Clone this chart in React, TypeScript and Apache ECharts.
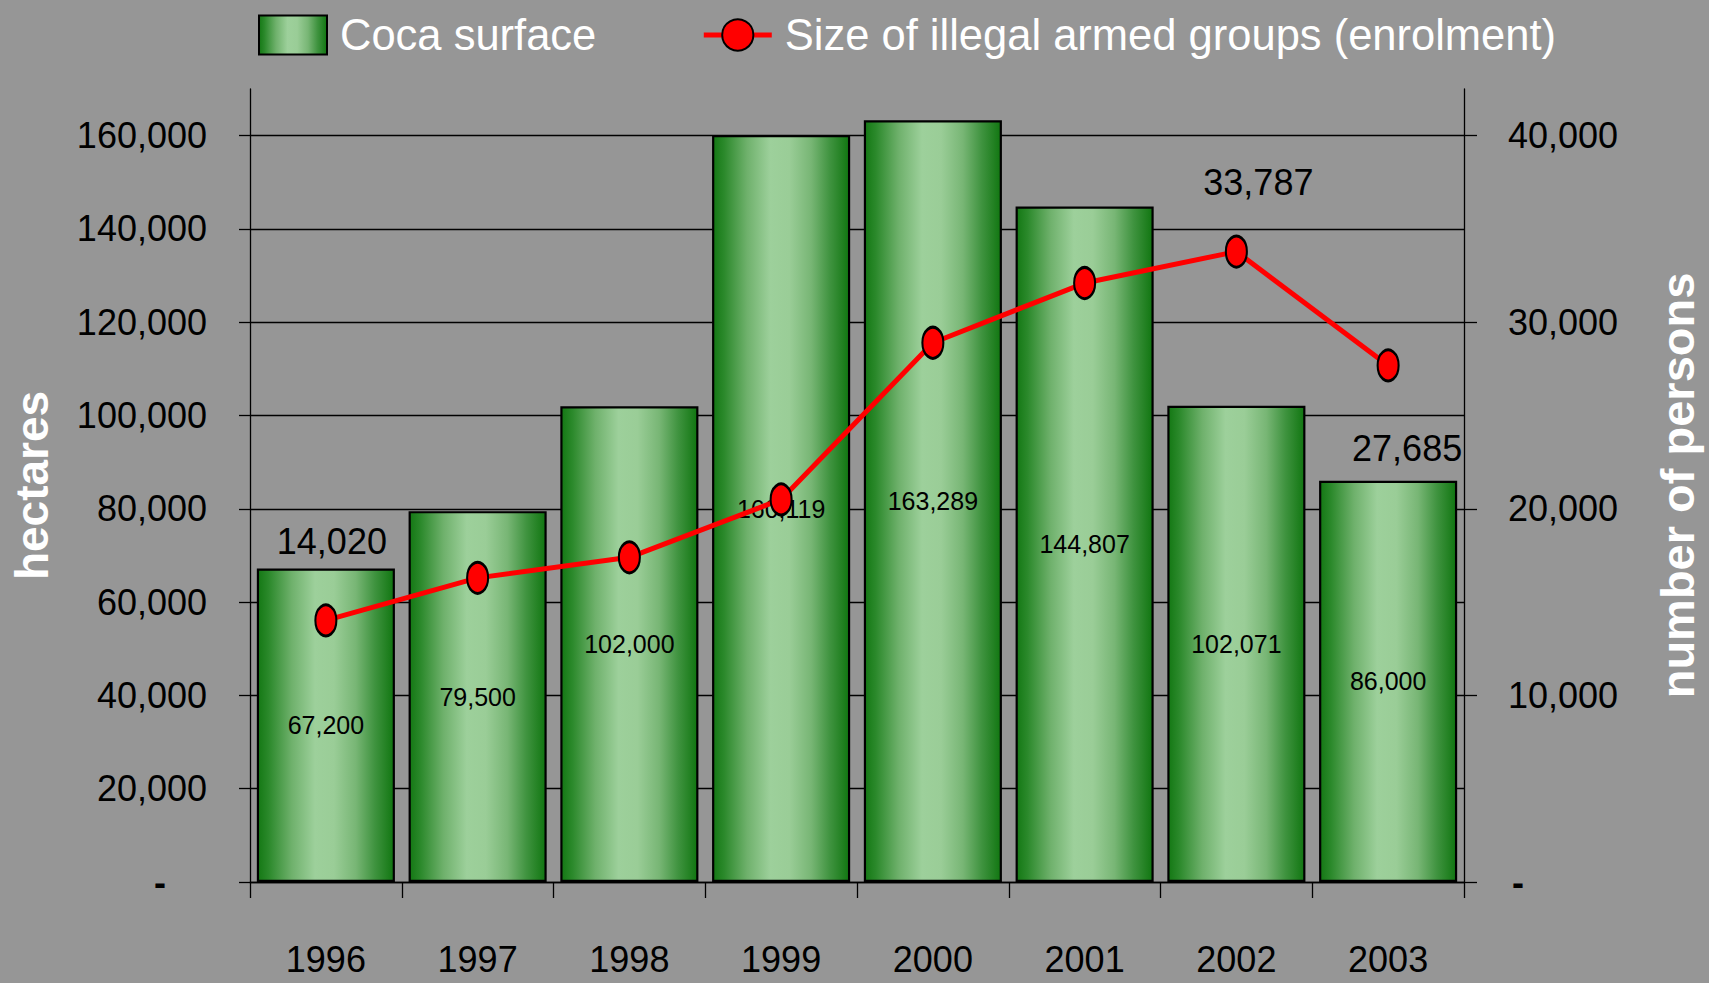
import React, { useEffect, useRef } from 'react';
import * as echarts from 'echarts';

// ---- data ----
const years = ['1996', '1997', '1998', '1999', '2000', '2001', '2002', '2003'];
const cocaSurface = [67200, 79500, 102000, 160119, 163289, 144807, 102071, 86000];
const armedGroups = [14020, 16300, 17400, 20500, 28900, 32100, 33787, 27685];
const labeledArmedIdx = [0, 6, 7];
const hectareTicks = [0, 20000, 40000, 60000, 80000, 100000, 120000, 140000, 160000];
const personTicks = [0, 10000, 20000, 30000, 40000];

const BAR_NAME = 'Coca surface';
const LINE_NAME = 'Size of illegal armed groups (enrolment)';

// ---- styling ----
const FONT = "'Liberation Sans', Arial, sans-serif";
const labelOffsets: Record<number, [number, number]> = {
  0: [6, -79],
  6: [22, -69],
  7: [19, 83],
};

const fmt = (v: number) => (v === 0 ? '-' : Math.round(v).toLocaleString('en-US'));

export default function App() {
  const ref = useRef<HTMLDivElement>(null);

  useEffect(() => {
    if (!ref.current) return;
    const chart = echarts.init(ref.current, undefined, { renderer: 'svg' });

    const barGradient = new echarts.graphic.LinearGradient(0, 0, 1, 0, [
      { offset: 0, color: '#147814' },
      { offset: 0.08, color: '#2b892b' },
      { offset: 0.25, color: '#6fb16c' },
      { offset: 0.42, color: '#9dd09b' },
      { offset: 0.56, color: '#9acd97' },
      { offset: 0.72, color: '#78b675' },
      { offset: 0.86, color: '#3f933f' },
      { offset: 1, color: '#117611' },
    ]);

    const option: any = {
      animation: false,
      backgroundColor: '#969696',
      textStyle: { fontFamily: FONT },
      grid: { left: 250, right: 237, top: 89, bottom: 101, containLabel: false },
      legend: {
        left: 258,
        top: 13,
        padding: 0,
        itemGap: 105,
        itemWidth: 68,
        itemHeight: 39,
        selectedMode: false,
        textStyle: { color: '#ffffff', fontSize: 43.5, fontFamily: FONT, padding: [0, 0, 0, 8] },
        data: [
          { name: BAR_NAME, icon: 'rect' },
          { name: LINE_NAME, lineStyle: { width: 5, color: '#ff0000' } },
        ],
      },
      xAxis: {
        type: 'category',
        data: years,
        boundaryGap: true,
        axisLine: { show: true, lineStyle: { color: '#000', width: 1.3 } },
        axisTick: { show: true, length: 16, interval: 0, lineStyle: { color: '#000', width: 1.3 } },
        axisLabel: { margin: 59, color: '#000', fontSize: 36, fontFamily: FONT, interval: 0 },
        splitLine: { show: false },
      },
      yAxis: [
        {
          type: 'value',
          position: 'left',
          min: 0,
          max: 170000,
          interval: 20000,
          name: 'hectares',
          nameLocation: 'middle',
          nameRotate: 90,
          nameGap: 195,
          nameTextStyle: { color: '#ffffff', fontWeight: 'bold', fontSize: 46, fontFamily: FONT },
          axisLine: { show: true, lineStyle: { color: '#000', width: 1.3 } },
          axisTick: {
            show: true,
            length: 11,
            customValues: hectareTicks,
            lineStyle: { color: '#000', width: 1.3 },
          },
          axisLabel: {
            margin: 43,
            color: '#000',
            fontSize: 36,
            fontFamily: FONT,
            customValues: hectareTicks,
            formatter: (v: number) => (v === 0 ? '{z|-}' : fmt(v)),
            rich: { z: { padding: [0, 41, 0, 0], fontSize: 36, color: '#000', fontWeight: 'bold', fontFamily: FONT } },
          },
          splitLine: { show: true, lineStyle: { color: '#000', width: 1.3 } },
        },
        {
          type: 'value',
          position: 'right',
          min: 0,
          max: 42500,
          interval: 10000,
          name: 'number of persons',
          nameLocation: 'middle',
          nameRotate: 90,
          nameGap: 190,
          nameTextStyle: { color: '#ffffff', fontWeight: 'bold', fontSize: 47, fontFamily: FONT },
          axisLine: { show: true, lineStyle: { color: '#000', width: 1.3 } },
          axisTick: {
            show: true,
            length: 13,
            customValues: personTicks,
            lineStyle: { color: '#000', width: 1.3 },
          },
          axisLabel: {
            margin: 44,
            color: '#000',
            fontSize: 36,
            fontFamily: FONT,
            customValues: personTicks,
            formatter: (v: number) => (v === 0 ? '{z|-}' : fmt(v)),
            rich: { z: { padding: [0, 0, 0, 4], fontSize: 36, color: '#000', fontWeight: 'bold', fontFamily: FONT } },
          },
          splitLine: { show: false },
        },
      ],
      series: [
        {
          type: 'bar',
          name: BAR_NAME,
          data: cocaSurface,
          barWidth: '91%',
          itemStyle: { color: barGradient, borderColor: '#000', borderWidth: 2.2 },
          label: {
            show: true,
            position: 'inside',
            color: '#000',
            fontSize: 25,
            fontFamily: FONT,
            formatter: (p: any) => fmt(p.value),
          },
          emphasis: { disabled: true },
        },
        {
          type: 'line',
          name: LINE_NAME,
          yAxisIndex: 1,
          data: armedGroups.map((v, i) => ({
            value: v,
            label: labeledArmedIdx.includes(i)
              ? { show: true, offset: labelOffsets[i] }
              : { show: false },
          })),
          symbol: 'circle',
          symbolSize: [21, 31],
          lineStyle: { color: '#ff0000', width: 5 },
          itemStyle: { color: '#ff0000', borderColor: '#000', borderWidth: 2.5 },
          label: {
            position: 'inside',
            color: '#000',
            fontSize: 36,
            fontFamily: FONT,
            formatter: (p: any) => fmt(p.value),
          },
          emphasis: { disabled: true },
          z: 3,
        },
      ],
    };

    chart.setOption(option);
    return () => chart.dispose();
  }, []);

  return (
    <div
      ref={ref}
      style={{ position: 'absolute', left: 0, top: 0, width: 1709, height: 983 }}
    />
  );
}
